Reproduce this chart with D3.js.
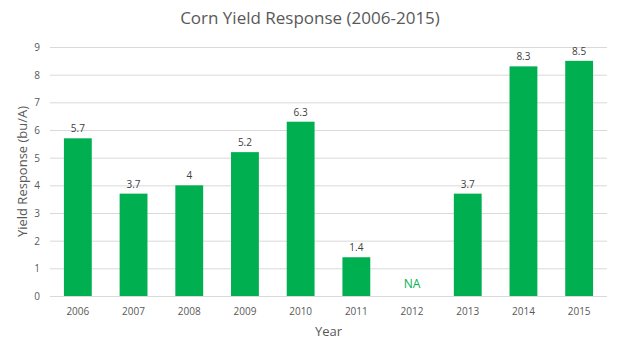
<!DOCTYPE html>
<html>
<head>
<meta charset="utf-8">
<script src="https://cdn.jsdelivr.net/npm/d3@7"></script>
<style>
  body { margin: 0; background: #fff; }
  text { font-family: "Open Sans", sans-serif; }
</style>
</head>
<body>
<div id="chart"></div>
<script>
// chart data
const years = ["2006", "2007", "2008", "2009", "2010", "2011", "2012", "2013", "2014", "2015"];
const yields = [5.7, 3.7, 4, 5.2, 6.3, 1.4, null, 3.7, 8.3, 8.5];
const yTicks = [0, 1, 2, 3, 4, 5, 6, 7, 8, 9];

const width = 617;
const height = 352;
const plotLeft = 50, plotRight = 607, plotTop = 47, plotBottom = 296;
const green = "#00b050";
const grey = "#595959";

const svg = d3.select("#chart")
    .append("svg")
    .attr("width", width)
    .attr("height", height);

let x_scale = d3.scaleBand()
    .domain(years)
    .range([plotLeft, plotRight])
    .paddingInner(0.5)
    .paddingOuter(0.25);

let y_scale = d3.scaleLinear()
    .domain([0, 9])
    .range([plotBottom, plotTop]);

// gridlines
svg.append("g")
    .selectAll("line")
    .data(yTicks)
    .enter()
    .append("line")
    .attr("x1", plotLeft)
    .attr("x2", plotRight)
    .attr("y1", d => y_scale(d) + 0.5)
    .attr("y2", d => y_scale(d) + 0.5)
    .style("stroke", "#d9d9d9")
    .style("stroke-width", 1);

// y tick labels
svg.append("g")
    .selectAll("text")
    .data(yTicks)
    .enter()
    .append("text")
    .attr("x", 40)
    .attr("y", d => y_scale(d) + 4)
    .attr("text-anchor", "end")
    .style("font-size", "10px")
    .style("fill", grey)
    .text(d => d);

// bars
const data = years.map((y, i) => ({year: y, value: yields[i]}));

svg.append("g")
    .selectAll("rect")
    .data(data.filter(d => d.value != null))
    .enter()
    .append("rect")
    .attr("x", d => x_scale(d.year))
    .attr("width", x_scale.bandwidth())
    .attr("y", d => y_scale(d.value))
    .attr("height", d => y_scale(0) - y_scale(d.value))
    .style("fill", green);

// value labels
svg.append("g")
    .selectAll("text")
    .data(data)
    .enter()
    .append("text")
    .attr("x", d => x_scale(d.year) + x_scale.bandwidth() / 2)
    .attr("y", d => d.value == null ? y_scale(0) - 8 : y_scale(d.value) - 6)
    .attr("text-anchor", "middle")
    .style("font-size", d => d.value == null ? "12px" : "10px")
    .style("fill", d => d.value == null ? green : "#404040")
    .text(d => d.value == null ? "NA" : d.value);

// x tick labels
svg.append("g")
    .selectAll("text")
    .data(years)
    .enter()
    .append("text")
    .attr("x", d => x_scale(d) + x_scale.bandwidth() / 2)
    .attr("y", 315)
    .attr("text-anchor", "middle")
    .style("font-size", "10px")
    .style("fill", grey)
    .text(d => d);

// title
svg.append("text")
    .attr("x", 310)
    .attr("y", 24)
    .attr("text-anchor", "middle")
    .style("font-size", "17px")
    .style("fill", grey)
    .text("Corn Yield Response (2006-2015)");

// axis titles
svg.append("text")
    .attr("x", (plotLeft + plotRight) / 2)
    .attr("y", 336)
    .attr("text-anchor", "middle")
    .style("font-size", "13px")
    .style("fill", grey)
    .text("Year");

svg.append("text")
    .attr("transform", `translate(27, ${(plotTop + plotBottom) / 2}) rotate(-90)`)
    .attr("text-anchor", "middle")
    .style("font-size", "13px")
    .style("fill", grey)
    .text("Yield Response (bu/A)");
</script>
</body>
</html>
